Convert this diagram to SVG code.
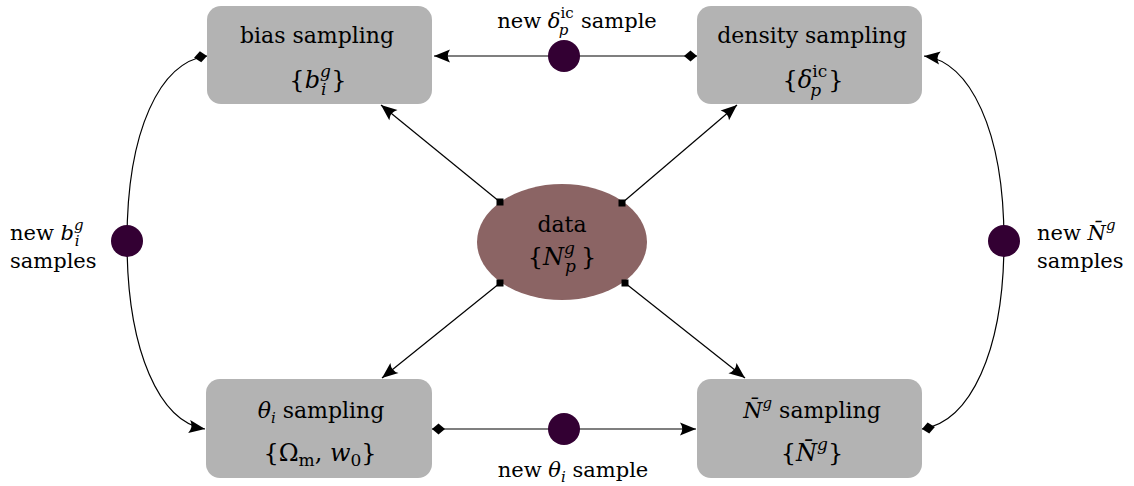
<svg xmlns="http://www.w3.org/2000/svg" width="1134" height="486" viewBox="0 0 1134 486">
<style>
text{font-family:"DejaVu Serif","Liberation Serif",serif;font-size:21px;fill:#000}
.t{font-size:22px}
.m{font-size:24px}
.box{fill:#b3b3b3}
.it{font-style:italic}
.sm{font-size:15px}
.ms{font-size:17px}
.ln{fill:none;stroke:#000;stroke-width:1.2}
.dot{fill:#330033}
</style>
<defs>
<marker id="arr" markerUnits="userSpaceOnUse" markerWidth="20" markerHeight="20" refX="0" refY="0" orient="auto" overflow="visible">
<path d="M0,0 L-16,-6.5 Q-11.5,0 -16,6.5 Z" fill="#000"/>
</marker>
<marker id="dia" markerUnits="userSpaceOnUse" markerWidth="20" markerHeight="20" refX="0" refY="0" orient="auto" overflow="visible">
<path d="M0,0 L6.5,-5.5 L13,0 L6.5,5.5 Z" fill="#000"/>
</marker>
<marker id="sq" markerUnits="userSpaceOnUse" markerWidth="10" markerHeight="10" refX="0" refY="0" orient="0" overflow="visible">
<rect x="-3.5" y="-3.5" width="7" height="7" fill="#000"/>
</marker>
</defs>

<g id="bias">
<rect class="box" x="207" y="6" width="225" height="98" rx="14"/>
<text class="t" x="317" y="43" text-anchor="middle">bias sampling</text>
<text class="m" x="318" y="88" text-anchor="middle">{<tspan class="it">b</tspan><tspan class="ms it" dy="-11">g</tspan><tspan class="ms it" dx="-10" dy="18">i</tspan><tspan dx="5" dy="-7">}</tspan></text>
</g>

<g id="density">
<rect class="box" x="697" y="6" width="225" height="98" rx="14"/>
<text class="t" x="812" y="43" text-anchor="middle">density sampling</text>
<text class="m" x="813" y="88" text-anchor="middle">{<tspan class="it">δ</tspan><tspan class="ms" dy="-11">ic</tspan><tspan class="ms it" dx="-17" dy="19">p</tspan><tspan dx="7" dy="-8">}</tspan></text>
</g>

<g id="theta">
<rect class="box" x="206" y="379" width="226" height="99" rx="14"/>
<text class="t" x="321" y="418" text-anchor="middle"><tspan class="it">θ</tspan><tspan class="sm it" dy="5">i</tspan><tspan dy="-5"> sampling</tspan></text>
<text class="m" x="320" y="461" text-anchor="middle">{Ω<tspan class="ms" dy="5">m</tspan><tspan dy="-5">, </tspan><tspan class="it">w</tspan><tspan class="ms" dy="5">0</tspan><tspan dy="-5">}</tspan></text>
</g>

<g id="nbar">
<rect class="box" x="697" y="379" width="225" height="99" rx="14"/>
<text class="t" x="812" y="418" text-anchor="middle"><tspan class="it">N̄</tspan><tspan class="sm it" dy="-10">g</tspan><tspan dy="10"> sampling</tspan></text>
<text class="m" x="812" y="461" text-anchor="middle">{<tspan class="it">N̄</tspan><tspan class="ms it" dy="-11">g</tspan><tspan dy="11">}</tspan></text>
</g>

<g id="data">
<ellipse cx="562" cy="242" rx="85" ry="58" fill="#8b6464"/>
<text class="t" x="562" y="232" text-anchor="middle">data</text>
<text class="m" x="562" y="265" text-anchor="middle">{<tspan class="it">N</tspan><tspan class="ms it" dy="-11">g</tspan><tspan class="ms it" dx="-10" dy="18">p</tspan><tspan dx="5" dy="-7">}</tspan></text>
</g>

<g id="connectors">
<path class="ln" d="M697,56 L434,56" marker-start="url(#dia)" marker-end="url(#arr)"/>
<path class="ln" d="M432,429 L696,429" marker-start="url(#dia)" marker-end="url(#arr)"/>
<path class="ln" d="M207,56 C160,62 127,130 127,241 C127,352 160,422 205,429" marker-start="url(#dia)" marker-end="url(#arr)"/>
<path class="ln" d="M922,429 C970,422 1004,352 1004,241 C1004,130 970,62 924,56" marker-start="url(#dia)" marker-end="url(#arr)"/>
<path class="ln" d="M500,202 L381,105" marker-start="url(#sq)" marker-end="url(#arr)"/>
<path class="ln" d="M622,203 L737,105" marker-start="url(#sq)" marker-end="url(#arr)"/>
<path class="ln" d="M500,283 L382,378" marker-start="url(#sq)" marker-end="url(#arr)"/>
<path class="ln" d="M625,283 L745,378" marker-start="url(#sq)" marker-end="url(#arr)"/>
<circle class="dot" cx="564" cy="56" r="16"/>
<circle class="dot" cx="564" cy="429" r="16"/>
<circle class="dot" cx="127" cy="241" r="16"/>
<circle class="dot" cx="1004" cy="241" r="16"/>
<text x="577" y="28" text-anchor="middle">new <tspan class="it">δ</tspan><tspan class="sm" dy="-10">ic</tspan><tspan class="sm it" dx="-15" dy="17">p</tspan><tspan dx="6" dy="-7"> sample</tspan></text>
<text x="573" y="477" text-anchor="middle">new <tspan class="it">θ</tspan><tspan class="sm it" dy="5">i</tspan><tspan dy="-5"> sample</tspan></text>
<text x="10" y="240">new <tspan class="it">b</tspan><tspan class="sm it" dy="-10">g</tspan><tspan class="sm it" dx="-9" dy="16">i</tspan></text>
<text x="10" y="268">samples</text>
<text x="1037" y="240">new <tspan class="it">N̄</tspan><tspan class="sm it" dy="-10">g</tspan></text>
<text x="1037" y="268">samples</text>
</g>
</svg>
